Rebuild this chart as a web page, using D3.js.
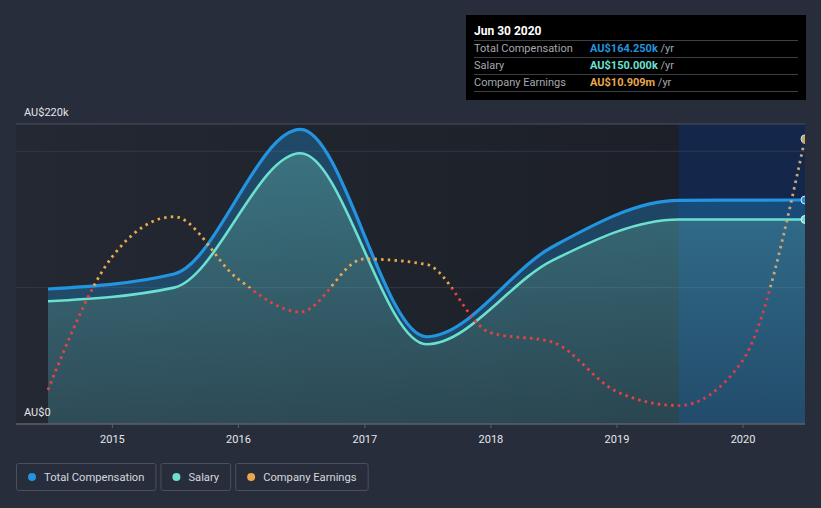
<!DOCTYPE html>
<html><head><meta charset="utf-8">
<script src="https://cdn.jsdelivr.net/npm/d3@7"></script>
<style>
html,body{margin:0;padding:0;background:#272d3a;}
svg{display:block;font-family:Roboto,"Noto Sans",sans-serif;}
</style></head>
<body><svg id="c" width="821" height="508"></svg>
<script>
// ---- data ----
const compDates = ["2014-06-30","2015-06-30","2016-06-30","2017-06-30","2018-06-30","2019-06-30","2020-06-30"];
const totalComp = [99000,110000,216000,64000,130000,164000,164250];
const salary    = [90000,100000,198500,58500,120000,150000,150000];
const earnDates = ["2014-06-30","2014-12-31","2015-06-30","2015-12-31","2016-06-30","2016-12-31","2017-06-30","2017-12-31","2018-06-30","2018-12-31","2019-06-30","2019-12-31","2020-06-30"];
const earnings  = [-7.5e6,2.2e6,5.2e6,0.66e6,-1.78e6,2.1e6,1.7e6,-3.3e6,-4.0e6,-7.6e6,-8.65e6,-5.4e6,10.909e6];
const yearTicks = ["2015","2016","2017","2018","2019","2020"];
const yLabels = [{v:220000,t:"AU$220k"},{v:0,t:"AU$0"}];
const gridVals = [100000,200000];
const tipTitle = "Jun 30 2020";
const tipRows = [
  {label:"Total Compensation", value:"AU$164.250k", color:"#2394df"},
  {label:"Salary", value:"AU$150.000k", color:"#6ce0d0"},
  {label:"Company Earnings", value:"AU$10.909m", color:"#e8a94d"}
];
const legendItems = [
  {label:"Total Compensation", color:"#2394df"},
  {label:"Salary", color:"#6ce0d0"},
  {label:"Company Earnings", color:"#e8a94d"}
];

const parse = d3.timeParse("%Y-%m-%d");
const svg = d3.select("#c");
const L = 16, R = 805, T = 124, B = 424;

const x = d3.scaleTime().domain([parse("2014-06-30"), parse("2020-06-30")]).range([48, 805]);
const y = d3.scaleLinear().domain([0, 220000]).range([B, T]);
const ye = d3.scaleLinear().domain([-10e6, 12e6]).range([B, T]);
const hx = x(parse("2019-06-30"));

const defs = svg.append("defs");
const bgG = defs.append("linearGradient").attr("id","bgG").attr("x1","0").attr("x2","1").attr("y1","0").attr("y2","0");
bgG.append("stop").attr("offset","0").attr("stop-color","#232832");
bgG.append("stop").attr("offset","1").attr("stop-color","#1b1e26");
const salG = defs.append("linearGradient").attr("id","salG").attr("gradientUnits","userSpaceOnUse")
  .attr("x1",0).attr("x2",0).attr("y1",T).attr("y2",B);
salG.append("stop").attr("offset","0").attr("stop-color","#5fdcf0").attr("stop-opacity",0.45);
salG.append("stop").attr("offset","1").attr("stop-color","#5fdcf0").attr("stop-opacity",0.2);
const zf = (ye(0)-T)/(B-T);
function splitGrad(id, pos, neg){
  const eG = defs.append("linearGradient").attr("id",id).attr("gradientUnits","userSpaceOnUse")
    .attr("x1",0).attr("x2",0).attr("y1",T).attr("y2",B);
  eG.append("stop").attr("offset",0).attr("stop-color",pos);
  eG.append("stop").attr("offset",zf).attr("stop-color",pos);
  eG.append("stop").attr("offset",zf).attr("stop-color",neg);
  eG.append("stop").attr("offset",1).attr("stop-color",neg);
}
splitGrad("eG","#e8a94d","#e8413f");
splitGrad("eG2","#c9a577","#e03c45");
defs.append("clipPath").attr("id","clip").append("rect").attr("x",L).attr("y",T-10).attr("width",R-L).attr("height",B-T+10);
defs.append("clipPath").attr("id","clipL").append("rect").attr("x",L).attr("y",T-10).attr("width",hx-L).attr("height",B-T+10);
defs.append("clipPath").attr("id","clipR").append("rect").attr("x",hx).attr("y",T-10).attr("width",R-hx).attr("height",B-T+10);

// plot background
svg.append("rect").attr("x",L).attr("y",T).attr("width",R-L).attr("height",B-T).attr("fill","url(#bgG)");
svg.append("rect").attr("x",hx).attr("y",T).attr("width",R-hx).attr("height",B-T).attr("fill","#14274a");

// grid
svg.selectAll(".grid").data(gridVals).join("line")
  .attr("x1",L).attr("x2",R).attr("y1",d=>y(d)).attr("y2",d=>y(d))
  .attr("stroke","#3a4150").attr("stroke-width",1).attr("opacity",0.7);
svg.append("line").attr("x1",L).attr("x2",R).attr("y1",T).attr("y2",T).attr("stroke","#4b5160").attr("stroke-width",1);

const g = svg.append("g").attr("clip-path","url(#clip)");
const comp = compDates.map((d,i)=>({d:parse(d),t:totalComp[i],s:salary[i]}));
const earn = earnDates.map((d,i)=>({d:parse(d),v:earnings[i]}));
const cm = d3.curveMonotoneX;

g.append("path").datum(comp).attr("fill","#2394df").attr("fill-opacity",0.32)
  .attr("d", d3.area().curve(cm).x(d=>x(d.d)).y0(d=>y(d.s)).y1(d=>y(d.t)));
g.append("path").datum(comp).attr("fill","url(#salG)")
  .attr("d", d3.area().curve(cm).x(d=>x(d.d)).y0(B).y1(d=>y(d.s)));

const eLine = d3.line().curve(cm).x(d=>x(d.d)).y(d=>ye(d.v));
[["clipL","url(#eG)"],["clipR","url(#eG2)"]].forEach(([c,s])=>{
  svg.append("g").attr("clip-path",`url(#${c})`).append("path").datum(earn)
    .attr("fill","none").attr("stroke",s).attr("stroke-width",2.8)
    .attr("stroke-dasharray","2.5,4.2").attr("d", eLine);
});

g.append("path").datum(comp).attr("fill","none").attr("stroke","#6ce0d0").attr("stroke-width",2.6)
  .attr("d", d3.line().curve(cm).x(d=>x(d.d)).y(d=>y(d.s)));
g.append("path").datum(comp).attr("fill","none").attr("stroke","#2394df").attr("stroke-width",3.2)
  .attr("d", d3.line().curve(cm).x(d=>x(d.d)).y(d=>y(d.t)));

// end markers
const lastC = comp[comp.length-1], lastE = earn[earn.length-1];
g.append("circle").attr("cx",x(lastE.d)).attr("cy",ye(lastE.v)).attr("r",4).attr("fill","#c7a56f").attr("stroke","#d8dde5").attr("stroke-width",1);
g.append("circle").attr("cx",x(lastC.d)).attr("cy",y(lastC.t)).attr("r",4).attr("fill","#2394df").attr("stroke","#d8e6f5").attr("stroke-width",1);
g.append("circle").attr("cx",x(lastC.d)).attr("cy",y(lastC.s)).attr("r",4).attr("fill","#6ce0d0").attr("stroke","#d8f5f0").attr("stroke-width",1);

// x axis
svg.append("line").attr("x1",L).attr("x2",R).attr("y1",B).attr("y2",B).attr("stroke","#5b616d").attr("stroke-width",1.5);
const ax = svg.append("g").attr("transform",`translate(0,${B})`)
  .call(d3.axisBottom(x).tickValues(yearTicks.map(t=>parse(t+"-01-01"))).tickFormat(d3.timeFormat("%Y")).tickSize(4).tickPadding(7));
ax.select(".domain").remove();
ax.selectAll(".tick line").attr("stroke","#5b616d");
ax.selectAll(".tick text").attr("fill","#e4e6ea").attr("font-size",11).attr("font-family","Roboto,sans-serif");

// y labels
svg.selectAll(".yl").data(yLabels).join("text")
  .attr("x",24).attr("y",d=>y(d.v)-8).attr("fill","#e4e6ea").attr("font-size",11).text(d=>d.t);

// tooltip
const tip = svg.append("g");
tip.append("rect").attr("x",466).attr("y",15).attr("width",340).attr("height",85).attr("fill","#000");
tip.append("text").attr("x",474).attr("y",35).attr("fill","#fff").attr("font-size",12).attr("font-weight","bold").text(tipTitle);
tipRows.forEach((r,i)=>{
  const yy = 40 + i*17;
  tip.append("line").attr("x1",474).attr("x2",798).attr("y1",yy+0.5).attr("y2",yy+0.5).attr("stroke","#3c3f45");
  tip.append("text").attr("x",474).attr("y",yy+12).attr("fill","#a4a8ae").attr("font-size",11).text(r.label);
  const t = tip.append("text").attr("x",590).attr("y",yy+12).attr("font-size",11);
  t.append("tspan").attr("fill",r.color).attr("font-weight","bold").text(r.value);
  t.append("tspan").attr("fill","#a4a8ae").text(" /yr");
});
tip.append("line").attr("x1",474).attr("x2",798).attr("y1",91.5).attr("y2",91.5).attr("stroke","#3c3f45");

// legend
const lg = svg.append("g");
let lx = 16;
legendItems.forEach(it=>{
  const gi = lg.append("g");
  const tx = gi.append("text").attr("x",lx+28).attr("y",481).attr("fill","#d4d8de").attr("font-size",11.2).text(it.label);
  const w = tx.node().getComputedTextLength();
  const bw = w + 28 + 11;
  gi.insert("rect","text").attr("x",lx+0.5).attr("y",463.5).attr("width",bw).attr("height",27).attr("rx",2)
    .attr("fill","none").attr("stroke","#4a505d");
  gi.append("circle").attr("cx",lx+16).attr("cy",477).attr("r",4).attr("fill",it.color);
  lx += bw + 5;
});
</script></body></html>
